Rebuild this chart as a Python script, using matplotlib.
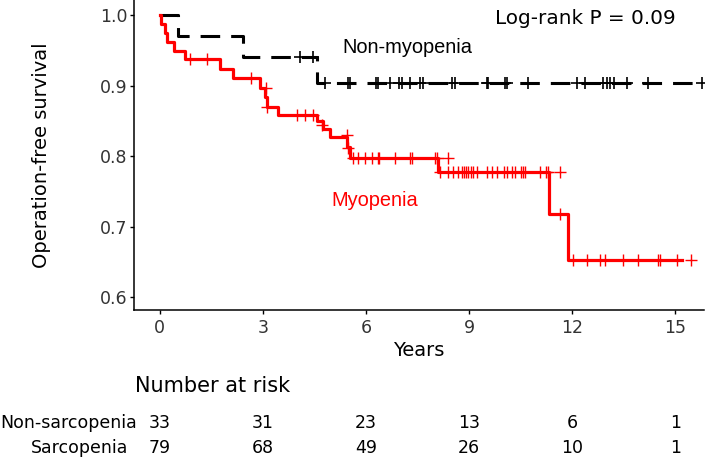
import numpy as np
import matplotlib
matplotlib.use("Agg")
import matplotlib.pyplot as plt
from matplotlib.transforms import blended_transform_factory

# non-myopenia curve (black dashed)
black_times = [0, 0.55, 2.44, 4.57]
black_surv = [1.0, 0.970, 0.940, 0.9035]
black_end = 15.76
black_censor_t = [4.08, 4.45, 4.81, 5.49, 5.54, 6.29, 6.36, 6.70, 6.96, 7.04, 7.28, 7.57, 7.65,
                  8.49, 8.59, 9.51, 9.56, 10.04, 10.09, 10.72, 12.13, 12.37, 12.90, 13.0,
                  13.1, 13.2, 13.58, 14.21, 15.76]
black_censor_s = [0.940, 0.940] + [0.9035] * 27

# myopenia curve (red)
red_times = [0, 0.03, 0.16, 0.23, 0.42, 0.74, 1.76, 2.15, 2.92, 3.07, 3.12, 3.45,
             4.57, 4.76, 4.96, 5.44, 5.54, 8.10, 11.31, 11.88]
red_surv = [1.0, 0.987, 0.975, 0.962, 0.949, 0.937, 0.923, 0.911, 0.897, 0.884, 0.870, 0.858,
            0.849, 0.839, 0.827, 0.813, 0.797, 0.777, 0.718, 0.652]
red_end = 15.18
red_censor_t = [0.89, 1.38, 2.65, 3.10, 3.12, 3.99, 4.23, 4.47, 4.71, 5.44, 5.49,
                5.63, 5.78, 5.97, 6.17, 6.36, 6.39, 6.85, 7.28, 7.33, 8.01, 8.06, 8.40,
                8.15, 8.40, 8.54, 8.69, 8.78, 8.85, 8.91, 8.98, 9.05, 9.12, 9.24, 9.53, 9.66,
                9.80, 10.0, 10.11, 10.24, 10.34, 10.50, 10.56, 10.63, 11.06, 11.25, 11.29, 11.64,
                11.64,
                12.03, 12.42, 12.81, 12.95, 13.48, 13.92, 14.50, 14.56, 15.03, 15.44]
red_censor_s = ([0.937, 0.937, 0.911, 0.897, 0.870, 0.858, 0.858, 0.858, 0.844, 0.830, 0.812]
                + [0.797] * 12 + [0.777] * 25 + [0.718] + [0.652] * 10)

# number at risk table
risk_times = [0, 3, 6, 9, 12, 15]
risk_groups = ["Non-sarcopenia", "Sarcopenia"]
risk_non = [33, 31, 23, 13, 6, 1]
risk_sarc = [79, 68, 49, 26, 10, 1]

fig = plt.figure(figsize=(7.08, 4.59), dpi=100)
ax = fig.add_axes([0.1886, 0.3246, 0.8058, 0.6754])

bt = black_times + [black_end]
bs = black_surv + [black_surv[-1]]
ax.step(bt, bs, where="post", color="black", lw=2.2, linestyle=(0, (6.4, 3.6)))
ax.plot(black_censor_t, black_censor_s, "+", color="black", ms=8, mew=1.2)

rt = red_times + [red_end]
rs = red_surv + [red_surv[-1]]
ax.step(rt, rs, where="post", color="#FF0000", lw=2.3)
ax.plot(red_censor_t, red_censor_s, "+", color="#FF0000", ms=8, mew=1.0)

ax.set_xlim(-0.756, 15.83)
ax.set_ylim(0.5816, 1.0213)
ax.set_xticks(risk_times)
ax.set_yticks([0.6, 0.7, 0.8, 0.9, 1.0])
ax.set_yticklabels(["0.6", "0.7", "0.8", "0.9", "1.0"])
for s in ["top", "right"]:
    ax.spines[s].set_visible(False)
for s in ["left", "bottom"]:
    ax.spines[s].set_linewidth(1.1)
ax.tick_params(axis="x", length=2.7, width=1, pad=4, labelsize=12.5, labelcolor="#333333")
ax.tick_params(axis="y", length=2.7, width=1, pad=1.5, labelsize=12.5, labelcolor="#333333")
ax.set_xlabel("Years", fontsize=14, labelpad=3)
ax.set_ylabel("Operation-free survival", fontsize=14, labelpad=35)

ax.text(5.33, 0.9546, "Non-myopenia", fontsize=14.4, family="Liberation Sans",
        color="black", ha="left", va="center")
ax.text(5.01, 0.7376, "Myopenia", fontsize=14.4, family="Liberation Sans",
        color="#FF0000", ha="left", va="center")
ax.text(14.99, 0.9957, "Log-rank P = 0.09", fontsize=14.4, ha="right", va="center")

# risk table below the plot
trans = blended_transform_factory(ax.transData, fig.transFigure)
fig.text(135 / 708, 1 - 386 / 459, "Number at risk", fontsize=15, ha="left", va="center")
fig.text(137 / 708, 1 - 423 / 459, risk_groups[0], fontsize=12.5, ha="right", va="center")
fig.text(128 / 708, 1 - 448 / 459, risk_groups[1], fontsize=12.5, ha="right", va="center")
for i in range(len(risk_times)):
    ax.text(risk_times[i], 1 - 423 / 459, str(risk_non[i]), transform=trans,
            fontsize=12.5, ha="center", va="center", clip_on=False)
    ax.text(risk_times[i], 1 - 448 / 459, str(risk_sarc[i]), transform=trans,
            fontsize=12.5, ha="center", va="center", clip_on=False)

fig.savefig("out.png", dpi=100)
